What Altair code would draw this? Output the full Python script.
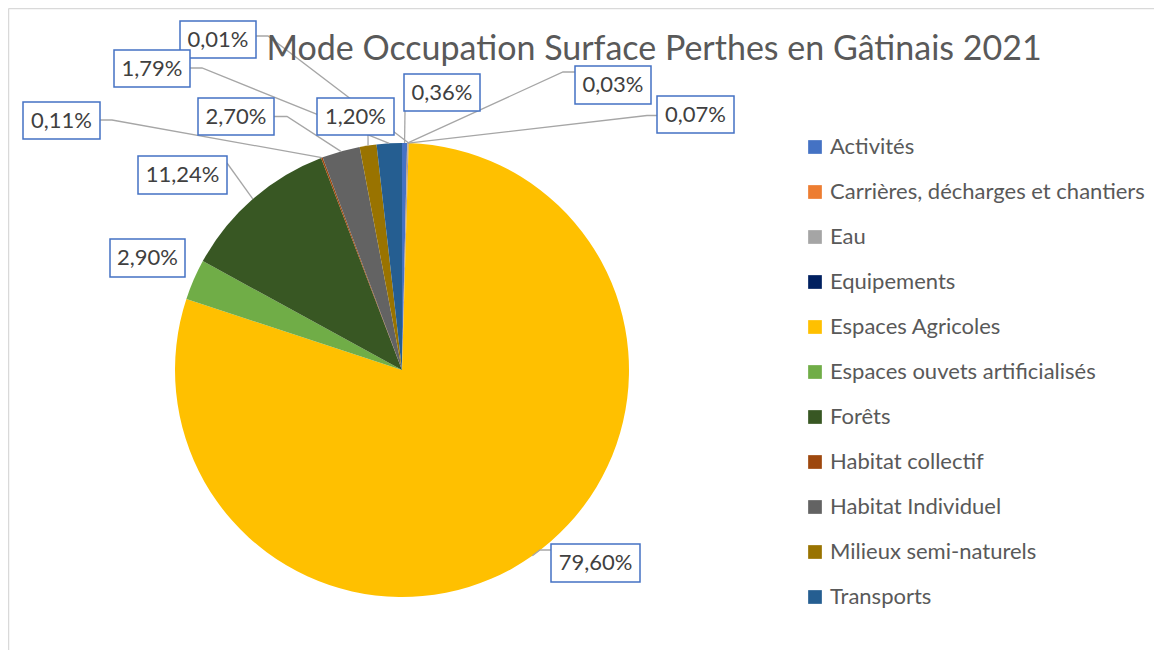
import math
import altair as alt
import pandas as pd

# ---------------- data ----------------
categories = [
    "Activités",
    "Carrières, décharges et chantiers",
    "Eau",
    "Equipements",
    "Espaces Agricoles",
    "Espaces ouvets artificialisés",
    "Forêts",
    "Habitat collectif",
    "Habitat Individuel",
    "Milieux semi-naturels",
    "Transports",
]
values = [0.36, 0.03, 0.07, 0.01, 79.60, 2.90, 11.24, 0.11, 2.70, 1.20, 1.79]
colors = ["#4472C4", "#ED7D31", "#A5A5A5", "#002060", "#FFC000", "#70AD47",
          "#385723", "#9E480E", "#636363", "#997300", "#255E91"]
title_text = "Mode Occupation Surface Perthes en Gâtinais 2021"

# ---------------- layout (page pixels) ----------------
OFF = 8
W, H = 1146, 642
CX, CY, R = 402, 370, 227
box_x0 = [404, 575, 657, 180, 551, 110, 138, 23, 198, 317, 114]
box_y0 = [74, 66, 96, 21, 544, 239, 156, 102, 98, 98, 50]
box_x1 = [480, 651, 734, 256, 640, 185, 227, 100, 274, 394, 190]
box_y1 = [111, 104, 133, 58, 582, 277, 194, 139, 135, 135, 87]
lead_start = [(405, 111), (575, 72), (657, 115.5), (256, 36), (551, 550), None,
              (227, 163), (100, 120), (274, 116.5), (368, 135), (190, 68)]
lead_elbow = [None, (563, 72), (647, 115.5), (268, 36), (540, 550), None,
              None, (112, 120), (287, 116.5), None, (202, 68)]

# ---------------- tables ----------------
df = pd.DataFrame({"cat": categories, "val": values, "idx": list(range(len(values)))})

total = sum(values)
labels = []
lines = []
cum = 0.0
for i, v in enumerate(values):
    a = (cum + v / 2) / total * 2 * math.pi
    cum += v
    ax = CX + R * math.sin(a)
    ay = CY - R * math.cos(a)
    txt = f"{v:.2f}".replace(".", ",") + "%"
    labels.append({
        "x0": box_x0[i] - OFF, "x1": box_x1[i] - OFF,
        "y0": box_y0[i] - OFF, "y1": box_y1[i] - OFF,
        "tx": (box_x0[i] + box_x1[i]) / 2 - OFF,
        "ty": (box_y0[i] + box_y1[i]) / 2 - OFF,
        "lab": txt,
    })
    if lead_start[i] is not None:
        pts = [lead_start[i]]
        if lead_elbow[i] is not None:
            pts.append(lead_elbow[i])
        pts.append((ax, ay))
        for k, (px, py) in enumerate(pts):
            lines.append({"id": i, "k": k, "lx": px - OFF, "ly": py - OFF})

lab_df = pd.DataFrame(labels)
line_df = pd.DataFrame(lines)

# ---------------- chart ----------------
pie = alt.Chart(df).mark_arc(outerRadius=R).encode(
    theta=alt.Theta("val:Q", stack=True),
    color=alt.Color(
        "cat:N",
        scale=alt.Scale(domain=categories, range=colors),
        legend=alt.Legend(
            title=None, orient="none", legendX=796, legendY=128,
            symbolType="square", symbolSize=188, symbolStrokeWidth=0,
            labelFont="Lato", labelFontSize=22, labelColor="#595959",
            rowPadding=23, labelOffset=4, labelLimit=400, padding=0,
        ),
    ),
    order=alt.Order("idx:Q"),
    x=alt.value(CX - OFF),
    y=alt.value(CY - OFF),
)

leaders = alt.Chart(line_df).mark_line(color="#A6A6A6", strokeWidth=1.3).encode(
    x=alt.X("lx:Q", scale=None, axis=None),
    y=alt.Y("ly:Q", scale=None, axis=None),
    detail="id:N",
    order="k:Q",
)

boxes = alt.Chart(lab_df).mark_rect(fill="white", stroke="#4472C4", strokeWidth=1.5).encode(
    x=alt.X("x0:Q", scale=None, axis=None),
    x2="x1:Q",
    y=alt.Y("y0:Q", scale=None, axis=None),
    y2="y1:Q",
)

texts = alt.Chart(lab_df).mark_text(
    font="Lato", fontSize=22, color="#404040", align="center", baseline="middle"
).encode(
    x=alt.X("tx:Q", scale=None, axis=None),
    y=alt.Y("ty:Q", scale=None, axis=None),
    text="lab:N",
)

title = alt.Chart(pd.DataFrame({"t": [title_text]})).mark_text(
    font="Lato", fontSize=34, color="#595959", align="center", baseline="alphabetic"
).encode(
    x=alt.value(654 - OFF),
    y=alt.value(60 - OFF),
    text="t:N",
)

frame_df = pd.DataFrame({"a": [0]})
left_border = alt.Chart(frame_df).mark_rule(color="#D9D9D9", strokeWidth=1.5).encode(
    x=alt.value(0.5), y=alt.value(0.5), y2=alt.value(H)
)
top_border = alt.Chart(frame_df).mark_rule(color="#D9D9D9", strokeWidth=1.5).encode(
    x=alt.value(0.5), x2=alt.value(W), y=alt.value(0.5)
)

chart = alt.layer(
    pie, leaders, boxes, texts, title, left_border, top_border
).properties(
    width=W, height=H,
    autosize=alt.AutoSizeParams(type="none"),
    padding=0,
).configure_view(stroke=None)

chart.save("out.html", embed_options={"renderer": "svg", "actions": False})
